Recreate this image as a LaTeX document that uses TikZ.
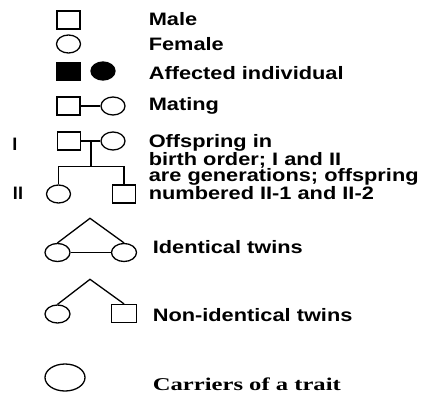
\documentclass[tikz,border=0pt]{standalone}
\usepackage{fontspec}
\setmainfont{Liberation Sans}
\newfontfamily\carrierfont{Liberation Serif}
\usetikzlibrary{shapes.geometric}

\tikzset{
  male/.style={draw, rectangle, minimum width=23pt, minimum height=18pt, inner sep=0pt},
  female/.style={draw, ellipse, minimum width=24pt, minimum height=18pt, inner sep=0pt},
  affected/.style={fill=black},
  legend/.style={anchor=base west, inner sep=0pt, font=\fontsize{18}{16.5}\selectfont\bfseries, xscale=1.21, transform shape},
  gen/.style={anchor=base, inner sep=0pt, font=\fontsize{18}{18}\selectfont\bfseries}
}

\begin{document}
\begin{tikzpicture}[x=1pt, y=-1pt, line width=1.3pt]
    \useasboundingbox (0,0) rectangle (426,394);

    % Symbols for sex and affection
    \node[male] (male) at (68.5,20) {};
    \node[female] (female) at (68.5,44) {};
    \node[male, affected] (affm) at (68.5,71.5) {};
    \node[female, affected] (afff) at (103,71) {};

    % Mating
    \node[male] (matm) at (68.5,106) {};
    \node[female] (matf) at (113,106) {};
    \draw (matm) -- (matf);

    % Parents (I) and offspring (II)
    \node[male] (par1) at (69,141) {};
    \node[female] (par2) at (113,141) {};
    \node[female] (kid1) at (58.5,194) {};
    \node[male] (kid2) at (124,194) {};
    \draw (par1) -- (par2);
    \coordinate (mid) at (91,141);
    \coordinate (sib) at (91,166.7);
    \draw (mid) -- (sib);
    \draw (kid1.north) |- (sib) -| (kid2.north);
    \node[gen] (genI) at (15,150) {I};
    \node[gen] (genII) at (18,199) {II};

    % Identical twins
    \coordinate (idtop) at (90,218.3);
    \node[female, minimum width=25pt] (id1) at (57.5,252.5) {};
    \node[female, minimum width=25pt] (id2) at (124,252.5) {};
    \draw (id1.north) -- (idtop) -- (id2.north);
    \draw (id1) -- (id2);

    % Non-identical twins
    \coordinate (nidtop) at (90,279.3);
    \node[female, minimum width=25pt] (nid1) at (57.5,314) {};
    \node[male, minimum width=25pt] (nid2) at (124,313.5) {};
    \draw (nid1.north) -- (nidtop) -- (nid2.north);

    % Carrier
    \node[female, minimum width=40pt, minimum height=27pt] (carrier) at (65,377.5) {};

    % Labels
    \node[legend] (lmale) at (148,25.5) {Male};
    \node[legend] (lfemale) at (148,50) {Female};
    \node[legend] (laff) at (148,79.5) {Affected individual};
    \node[legend] (lmat) at (148,110.5) {Mating};
    \node[legend, anchor=north west, align=left] (loff) at (148,133.6)
      {Offspring in\\birth order; I and II\\are generations; offspring\\numbered II-1 and II-2};
    \node[legend] (lid) at (152,253) {Identical twins};
    \node[legend] (lnid) at (152,321.7) {Non-identical twins};
    \node[legend, font=\fontsize{18}{18}\selectfont\carrierfont\bfseries, xscale=1.13] (lcar) at (152,390) {Carriers of a trait};
\end{tikzpicture}
\end{document}
